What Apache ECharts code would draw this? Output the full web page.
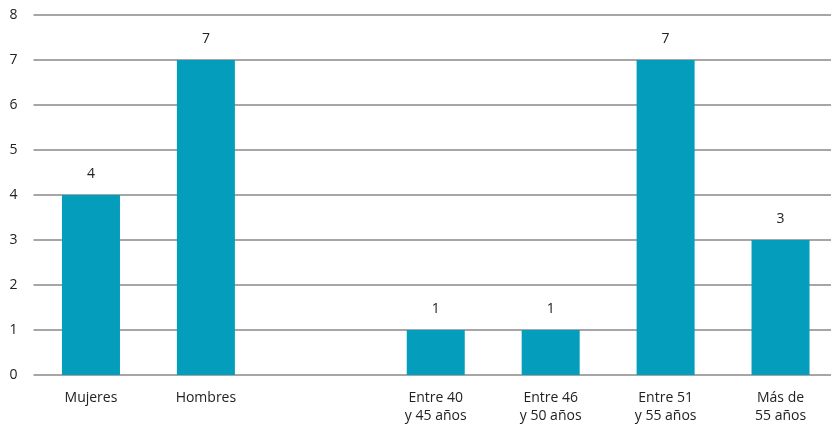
<!DOCTYPE html>
<html><head><meta charset="utf-8">
<script src="https://cdn.jsdelivr.net/npm/echarts@6/dist/echarts.min.js"></script>
<style>html,body{margin:0;padding:0;background:#fff;overflow:hidden}#c{width:838px;height:426px}</style>
</head><body><div id="c"></div>
<script>
const categories = ['Mujeres', 'Hombres', '', 'Entre 40\ny 45 años', 'Entre 46\ny 50 años', 'Entre 51\ny 55 años', 'Más de\n55 años'];
const values = [4, 7, null, 1, 1, 7, 3];
const yTicks = [0, 1, 2, 3, 4, 5, 6, 7, 8];

const chart = echarts.init(document.getElementById('c'), null, {renderer: 'canvas'});
chart.setOption({
  animation: false,
  grid: {left: 33.5, right: 0, top: 15, bottom: 51, containLabel: false},
  xAxis: {
    type: 'category', data: categories,
    axisLine: {show: false}, axisTick: {show: false},
    axisLabel: {color: '#222', fontSize: 14, fontFamily: 'Open Sans', margin: 14, lineHeight: 18, interval: 0}
  },
  yAxis: {
    type: 'value', min: 0, max: 8, interval: 1,
    axisLine: {show: false}, axisTick: {show: false},
    axisLabel: {color: '#222', fontSize: 14, fontFamily: 'Open Sans', margin: 16},
    splitLine: {lineStyle: {color: '#888', width: 1.5}}
  },
  series: [{
    type: 'bar', data: values, barWidth: 58,
    itemStyle: {color: '#049DBB'},
    label: {show: true, position: 'top', distance: 14, color: '#222', fontSize: 14, fontFamily: 'Open Sans'}
  }]
});
</script>
</body></html>
